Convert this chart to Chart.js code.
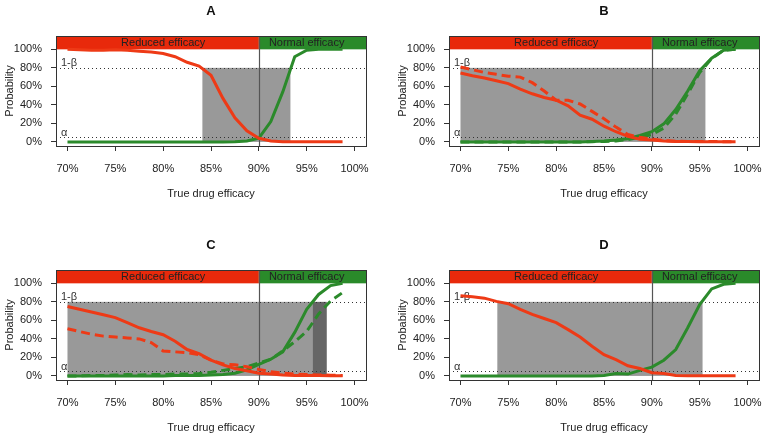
<!DOCTYPE html>
<html>
<head>
<meta charset="utf-8">
<script src="https://cdn.jsdelivr.net/npm/chart.js@4.4.1/dist/chart.umd.min.js"></script>
<style>
  body { margin: 0; width: 764px; height: 436px; overflow: hidden; background: #fff; position: relative; }
  canvas { position: absolute; }
</style>
</head>
<body>
<canvas id="panelA" width="382" height="218" style="left:0px;top:0px"></canvas>
<canvas id="panelB" width="382" height="218" style="left:393px;top:0px"></canvas>
<canvas id="panelC" width="382" height="218" style="left:0px;top:234px"></canvas>
<canvas id="panelD" width="382" height="218" style="left:393px;top:234px"></canvas>
<script>
// true drug efficacy (%) at which the probabilities were evaluated
const efficacy = [70, 71.25, 72.5, 73.75, 75, 76.25, 77.5, 78.75, 80, 81.25, 82.5, 83.75,
                  85, 86.25, 87.5, 88.75, 90, 91.25, 92.5, 93.75, 95, 96.25, 97.5, 98.75];
const xTicks = [70, 75, 80, 85, 90, 95, 100];
const yTicks = [0, 20, 40, 60, 80, 100];
const cutoff = 90;      // reduced / normal efficacy boundary
const power = 80;       // 1-beta
const alpha = 5;

// panel A
const redA   = [100, 99.5, 99, 99, 99.5, 99, 98, 97, 95.5, 92, 86, 82, 72, 47, 26, 12, 4, 1, 0.3, 0.3, 0.3, 0.3, 0.3, 0.3];
const greenA = [0, 0, 0, 0, 0, 0, 0, 0, 0, 0, 0, 0, 0, 0, 0.3, 1, 4, 22, 54, 92, 99, 100, 100, 100];
const grayA  = [84.1, 93.3];

// panel B
const redB       = [74.5, 71.5, 69, 66, 63, 57, 52, 48, 45, 39, 29, 24.5, 17, 11, 6, 3, 2, 1, 0.5, 0.5, 0.3, 0.3, 0.3, 0.3];
const redDashB   = [81, 78, 75, 73, 71, 70, 64, 55, 45, 45, 41, 33, 25, 16, 8, 5, 3, 1.5, 0.8, 0.5, 0.5, 0.5, 0.3, 0.3];
const greenB     = [0, 0, 0, 0, 0, 0, 0, 0, 0, 0, 0, 0.5, 1, 2, 3.5, 7, 11, 19.5, 35, 55, 77, 90.5, 99, 100];
const greenDashB = [0, 0, 0, 0, 0, 0, 0, 0, 0, 0, 0, 0.3, 0.5, 1, 2.5, 5, 8, 15, 30, 52, 75, 90, 99, 100];
const grayB      = [70, 95.6];

// panel C
const redC       = [75, 72, 69, 66, 63, 57.5, 52, 48, 44.5, 37.5, 28.5, 24, 17, 12, 8, 5.5, 3, 2, 1, 0.5, 0.5, 0.5, 0.3, 0.3];
const redDashC   = [51, 48, 45, 43, 42, 41, 40, 36, 27, 26, 25, 23, 17, 13, 12, 10, 7, 4.5, 3, 2, 1.5, 1, 0.8, 0.5];
const greenC     = [0, 0, 0, 0, 0, 0, 0, 0, 0, 0.5, 0.5, 0.5, 1, 1.5, 3, 6.5, 12.5, 18, 26, 47, 72, 88, 97.5, 100];
const greenDashC = [0, 0, 0.5, 0.5, 1, 1.5, 1, 1.5, 1.5, 2, 2, 2.5, 4, 6, 8, 10, 14, 18, 27, 37, 48, 67, 81, 90];
const grayC      = [70, 95.6];
const darkGrayC  = [95.6, 97.1];

// panel D
const redD   = [86.5, 85.5, 84, 80.5, 78, 72, 66.5, 62, 57.5, 50, 42, 32, 23, 17.5, 11, 8, 3.5, 2.5, 0.5, 0.3, 0.3, 0.3, 0.3, 0.3];
const greenD = [0, 0, 0, 0, 0, 0, 0, 0, 0, 0, 0, 0, 0.5, 2.5, 2, 6, 9.5, 17, 28.5, 52, 77, 94, 99, 100];
const grayD  = [73.85, 95.3];

const RED = '#ee3a16', GREEN = '#2b8a2b';
const FONT = "'Liberation Sans', Arial, Helvetica, sans-serif";

function line(values, color, dashed) {
  return {
    data: efficacy.map((e, i) => ({ x: e, y: values[i] })),
    borderColor: color,
    borderWidth: 3,
    borderDash: dashed ? [9, 5] : [],
    pointRadius: 0,
    tension: 0,
    fill: false
  };
}

// header strip, shaded bands, threshold lines, frame and panel letter
const decor = {
  id: 'decor',
  beforeDatasetsDraw(chart, args, opts) {
    const { ctx, chartArea: a, scales: { x, y } } = chart;
    ctx.save();
    // shaded intervals
    opts.bands.forEach(b => {
      ctx.fillStyle = b.color;
      const x0 = x.getPixelForValue(b.range[0]), x1 = x.getPixelForValue(b.range[1]);
      const y0 = y.getPixelForValue(power), y1 = y.getPixelForValue(0);
      ctx.fillRect(x0, y0, x1 - x0, y1 - y0);
    });
    // header
    const hTop = a.top, hBot = y.getPixelForValue(100), xc = x.getPixelForValue(cutoff);
    ctx.fillStyle = '#e8290b';
    ctx.fillRect(a.left, hTop, xc - a.left, hBot - hTop);
    ctx.fillStyle = '#2a8a2a';
    ctx.fillRect(xc, hTop, a.right - xc, hBot - hTop);
    ctx.fillStyle = '#222';
    ctx.font = '11px ' + FONT;
    ctx.textAlign = 'center';
    ctx.textBaseline = 'middle';
    ctx.fillText('Reduced efficacy', x.getPixelForValue(80), y.getPixelForValue(106.5));
    ctx.fillText('Normal efficacy', x.getPixelForValue(95), y.getPixelForValue(106.5));
    // dotted thresholds
    ctx.strokeStyle = '#333';
    ctx.lineWidth = 1;
    ctx.setLineDash([1, 3]);
    [power, alpha].forEach(v => {
      const py = Math.round(y.getPixelForValue(v)) + 0.5;
      ctx.beginPath();
      ctx.moveTo(a.left, py);
      ctx.lineTo(a.right, py);
      ctx.stroke();
    });
    ctx.setLineDash([]);
    ctx.fillStyle = '#333';
    ctx.textAlign = 'left';
    ctx.textBaseline = 'alphabetic';
    ctx.fillText('1-\u03b2', a.left + 5, y.getPixelForValue(power) - 2);
    ctx.fillText('\u03b1', a.left + 5, y.getPixelForValue(alpha) - 1.5);
    // cutoff line
    ctx.strokeStyle = '#555';
    ctx.lineWidth = 1.2;
    ctx.beginPath();
    ctx.moveTo(Math.round(xc) + 0.5, a.bottom);
    ctx.lineTo(Math.round(xc) + 0.5, a.top);
    ctx.stroke();
    ctx.restore();
  },
  afterDraw(chart, args, opts) {
    const { ctx, chartArea: a } = chart;
    ctx.save();
    ctx.strokeStyle = '#333';
    ctx.lineWidth = 1;
    ctx.strokeRect(a.left + 0.5, a.top + 0.5, a.right - a.left, a.bottom - a.top);
    ctx.fillStyle = '#111';
    ctx.font = 'bold 13px ' + FONT;
    ctx.textAlign = 'center';
    ctx.textBaseline = 'middle';
    ctx.fillText(opts.letter, (a.left + a.right) / 2, 11);
    ctx.restore();
  }
};

function makePanel(id, letter, datasets, bands) {
  return new Chart(document.getElementById(id), {
    type: 'line',
    data: { datasets: datasets },
    plugins: [decor],
    options: {
      responsive: false,
      animation: false,
      layout: { padding: { top: 36, right: 16, left: 0, bottom: 0 } },
      plugins: {
        legend: { display: false },
        tooltip: { enabled: false },
        decor: { letter: letter, bands: bands }
      },
      scales: {
        x: {
          type: 'linear',
          min: 68.8,
          max: 101.2,
          afterBuildTicks: s => { s.ticks = xTicks.map(v => ({ value: v })); },
          afterFit: s => { s.height = 72; },
          ticks: { callback: v => v + '%', color: '#222', font: { size: 11, family: FONT }, padding: 11, maxRotation: 0, autoSkip: false },
          grid: { drawOnChartArea: false, drawTicks: true, tickLength: 5, color: '#333' },
          border: { display: true, color: '#333' },
          title: { display: true, text: 'True drug efficacy', color: '#222', font: { size: 11, family: FONT }, padding: { top: 0, bottom: 17.4 } }
        },
        y: {
          min: -4.4,
          max: 114.4,
          afterBuildTicks: s => { s.ticks = yTicks.map(v => ({ value: v })); },
          afterFit: s => { s.width = 56; },
          ticks: { callback: v => v + '%', color: '#222', font: { size: 11, family: FONT }, padding: 9, autoSkip: false },
          grid: { drawOnChartArea: false, drawTicks: true, tickLength: 5, color: '#333' },
          border: { display: true, color: '#333' },
          title: { display: true, text: 'Probability', color: '#222', font: { size: 11, family: FONT }, padding: { top: 3.4, bottom: 0 } }
        }
      }
    }
  });
}

makePanel('panelA', 'A', [line(redA, RED, false), line(greenA, GREEN, false)],
  [{ range: grayA, color: '#999999' }]);

makePanel('panelB', 'B', [line(redB, RED, false), line(redDashB, RED, true),
  line(greenB, GREEN, false), line(greenDashB, GREEN, true)],
  [{ range: grayB, color: '#999999' }]);

makePanel('panelC', 'C', [line(redC, RED, false), line(redDashC, RED, true),
  line(greenC, GREEN, false), line(greenDashC, GREEN, true)],
  [{ range: grayC, color: '#999999' }, { range: darkGrayC, color: '#666666' }]);

makePanel('panelD', 'D', [line(redD, RED, false), line(greenD, GREEN, false)],
  [{ range: grayD, color: '#999999' }]);
</script>
</body>
</html>
